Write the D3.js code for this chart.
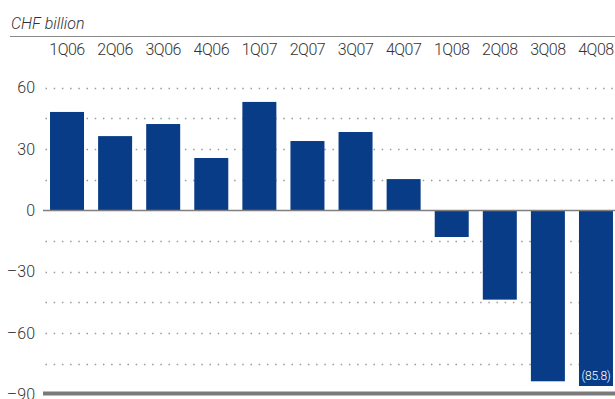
<!DOCTYPE html>
<html>
<head>
<meta charset="utf-8">
<script src="https://cdn.jsdelivr.net/npm/d3@7/dist/d3.min.js"></script>
<style>
  html, body { margin: 0; padding: 0; background: #fff; }
  svg { display: block; }
  text { font-family: Roboto, "Open Sans", sans-serif; font-weight: 300; }
</style>
</head>
<body>
<svg id="chart" width="615" height="399"></svg>
<script>
// Quarterly values, CHF billion
const quarters = ["1Q06","2Q06","3Q06","4Q06","1Q07","2Q07","3Q07","4Q07","1Q08","2Q08","3Q08","4Q08"];
const values = [48.1, 36.3, 42.2, 25.6, 53.0, 33.9, 38.3, 15.3, -13.0, -43.6, -83.5, -85.8];
const yTicks = [60, 30, 0, -30, -60, -90];
const yMinor = [45, 15, -15, -45, -75];
const unitLabel = "CHF billion";
const labelledQuarter = "4Q08";

const W = 615, H = 399;
const barColor = "#083c87";
const gridColor = "#9a9a9a";
const textColor = "#333";

const svg = d3.select("#chart");

const x = d3.scaleBand()
  .domain(quarters)
  .range([43, 620])
  .paddingInner(0.293)
  .paddingOuter(0.146);

const y = d3.scaleLinear()
  .domain([-90, 60])
  .range([394.6, 87.6]);

const fmtTick = v => v < 0 ? "\u2013" + Math.abs(v) : String(v);

// unit caption
svg.append("text")
  .attr("x", 11)
  .attr("y", 29)
  .attr("font-size", 16)
  .attr("font-style", "italic")
  .attr("fill", textColor)
  .text(unitLabel);

// rule above the category labels
svg.append("line")
  .attr("x1", 10).attr("x2", W)
  .attr("y1", 36.5).attr("y2", 36.5)
  .attr("stroke", "#8a8a8a")
  .attr("stroke-width", 1);

// category axis across the top
const xAxis = d3.axisTop(x).tickSize(0).tickPadding(0);
const gx = svg.append("g")
  .attr("transform", "translate(0,55)")
  .call(xAxis);
gx.select(".domain").remove();
gx.selectAll("text")
  .attr("font-size", 16)
  .attr("letter-spacing", "-0.5px")
  .attr("fill", textColor)
  .attr("font-family", "Roboto, sans-serif")
  .attr("font-weight", 300)
  .attr("dy", 0);

// dotted gridlines at major and minor steps (except baseline and floor)
const gridVals = yTicks.concat(yMinor).filter(v => v !== 0 && v !== -90);
svg.append("g")
  .selectAll("line")
  .data(gridVals)
  .join("line")
  .attr("x1", 45.5).attr("x2", W)
  .attr("y1", d => Math.round(y(d)) + 0.5)
  .attr("y2", d => Math.round(y(d)) + 0.5)
  .attr("stroke", gridColor)
  .attr("stroke-width", 1.5)
  .attr("stroke-dasharray", "1.5,6.7");

// value axis labels on the left
const yAxis = d3.axisLeft(y).tickValues(yTicks).tickFormat(fmtTick).tickSize(0).tickPadding(0);
const gy = svg.append("g")
  .attr("transform", "translate(35,0)")
  .call(yAxis);
gy.select(".domain").remove();
gy.selectAll("text")
  .attr("font-size", 16)
  .attr("fill", textColor)
  .attr("font-family", "Roboto, sans-serif")
  .attr("font-weight", 300);

// bars
svg.append("g")
  .selectAll("rect")
  .data(quarters.map((q, i) => ({ q, v: values[i] })))
  .join("rect")
  .attr("x", d => x(d.q))
  .attr("width", x.bandwidth())
  .attr("y", d => y(Math.max(0, d.v)))
  .attr("height", d => Math.abs(y(d.v) - y(0)))
  .attr("fill", barColor);

// zero baseline
svg.append("line")
  .attr("x1", 43).attr("x2", W)
  .attr("y1", y(0)).attr("y2", y(0))
  .attr("stroke", "#7f7f7f")
  .attr("stroke-width", 1.5);

// heavy floor line at the bottom of the scale
svg.append("line")
  .attr("x1", 43).attr("x2", W)
  .attr("y1", y(-90) - 1).attr("y2", y(-90) - 1)
  .attr("stroke", "#7a7a7a")
  .attr("stroke-width", 4);

// value label inside the last bar
const li = quarters.indexOf(labelledQuarter);
svg.append("text")
  .attr("x", x(labelledQuarter) + x.bandwidth() / 2)
  .attr("y", y(values[li]) - 6)
  .attr("text-anchor", "middle")
  .attr("font-size", 12)
  .attr("font-weight", 400)
  .attr("letter-spacing", "-0.3px")
  .attr("fill", "#fff")
  .text("(" + Math.abs(values[li]).toFixed(1) + ")");
</script>
</body>
</html>
